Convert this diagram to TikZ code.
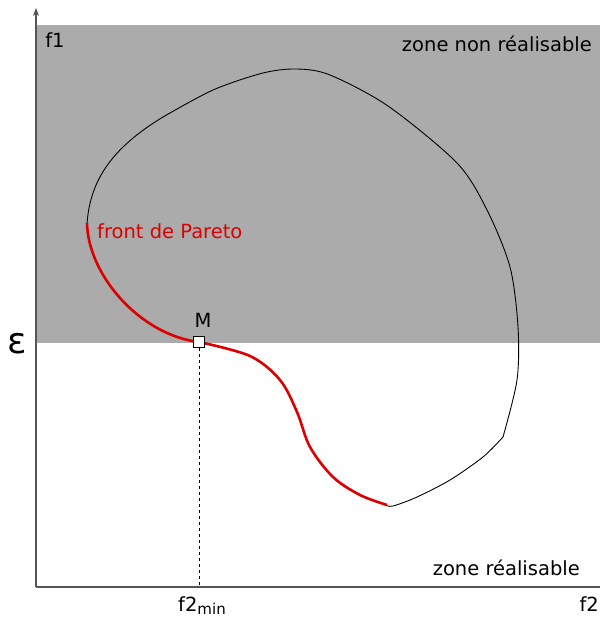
\documentclass[tikz,border=0pt]{standalone}
\usepackage{fontspec}
\setmainfont{DejaVu Sans}
\usetikzlibrary{arrows.meta}
\definecolor{zonegray}{HTML}{ABABAB}
\definecolor{paretored}{HTML}{DD0000}
\definecolor{axisgray}{HTML}{555555}
\tikzset{
  lbl/.style={font=\fontsize{19.5}{22}\selectfont, inner sep=0pt},
  axisline/.style={draw=axisgray, line width=1.2pt},
  blackcurve/.style={draw=black, line width=0.9pt},
  redcurve/.style={draw=paretored, line width=2.6pt},
}
\begin{document}
\begin{tikzpicture}[x=1pt,y=-1pt]
\useasboundingbox (0,0) rectangle (600,617);
% gray zone
\fill[zonegray] (36,25) rectangle (600,343);
% axes
\coordinate (o) at (36,587);
\coordinate (ytop) at (36,8);
\coordinate (xend) at (600,587);
\draw[axisline,-{Stealth[length=8pt,width=6pt]}] (o) -- (ytop);
\draw[axisline] (o) -- (xend);
% black curve
\draw[blackcurve] (87,224) .. controls (90,180) and (112,148) .. (163,117);
\draw[blackcurve] plot[smooth,tension=0.5] coordinates {(163,117) (213,90) (263,73) (297,69) (330,75) (388,106) (457,163) (487,210) (510,267) (518,327) (517,380) (503,437)};
\draw[blackcurve] plot[smooth,tension=0.5] coordinates {(503,437) (483,457) (450,480) (417,497) (393,506) (385,505)};
% red Pareto front
\draw[redcurve] (87,223) .. controls (88,275) and (140,335) .. (199,342);
\draw[redcurve] plot[smooth,tension=0.55] coordinates {(199,342) (250,356) (280,380) (297,412) (310,447) (333,477) (360,495) (387,505)};
% dashed line
\coordinate (fmin) at (199,587);
\node[draw=black, fill=white, line width=1.2pt, minimum size=11pt, inner sep=0pt] (M) at (199,342) {};
\draw[dashed, line width=0.9pt] (M.south) -- (fmin);
% labels
\node[lbl] (f1) at (55,40) {f1};
\node[lbl, anchor=east] (znr) at (592,44) {zone non réalisable};
\node[lbl, anchor=east] (zr) at (580,568) {zone réalisable};
\node[lbl, text=paretored, anchor=west] (fp) at (97,231) {front de Pareto};
\node[lbl] (Mlbl) at (203,320) {M};
\node[font=\fontsize{36}{38}\selectfont, inner sep=0pt] (eps) at (17,344) {ε};
\node[lbl, anchor=base west] (f2min) at (178,611) {f2\raisebox{-3pt}{\fontsize{15}{16}\selectfont min}};
\node[lbl, anchor=base east] (f2) at (599,611) {f2};
\end{tikzpicture}
\end{document}
